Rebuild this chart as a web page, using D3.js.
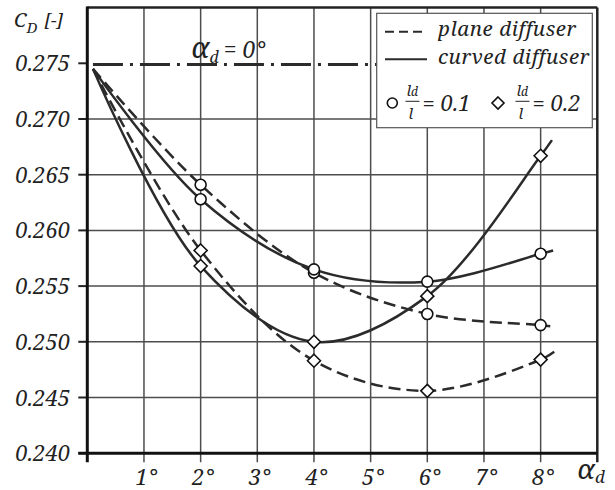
<!DOCTYPE html>
<html>
<head>
<meta charset="utf-8">
<script src="https://cdn.jsdelivr.net/npm/d3@7"></script>
<style>
html,body{margin:0;padding:0;background:#fff;}
svg{display:block;}
</style>
</head>
<body>
<svg id="chart" width="615" height="490"></svg>
<script>
// ---- data ----
const angles = [2, 4, 6, 8];
const planeCircle   = [0.2641, 0.2562, 0.2525, 0.2515];
const curvedCircle  = [0.2628, 0.2565, 0.2554, 0.2579];
const planeDiamond  = [0.2582, 0.2483, 0.2456, 0.2484];
const curvedDiamond = [0.2568, 0.2500, 0.2541, 0.2667];
// common start of the fitted curves and their end points just past 8°
const curveStart = [0.1, 0.2745];
const planeCircleEnd   = [8.17, 0.2514];
const curvedCircleEnd  = [8.22, 0.2582];
const planeDiamondEnd  = [8.24, 0.2491];
const curvedDiamondEnd = [8.2, 0.2681];
const referenceValue = 0.2749; // alpha_d = 0° line
const xTicks = [1, 2, 3, 4, 5, 6, 7, 8];
const yTicks = [0.240, 0.245, 0.250, 0.255, 0.260, 0.265, 0.270, 0.275];
const yGrid = [0.245, 0.250, 0.255, 0.260, 0.265, 0.270];
const yTickLabels = ["0.240", "0.245", "0.250", "0.255", "0.260", "0.265", "0.270", "0.275"];

const FONT = '"Noto Serif", "Liberation Serif", serif';
const svg = d3.select("#chart");
const x = d3.scaleLinear().domain([0, 9]).range([87.3, 597.3]);
const y = d3.scaleLinear().domain([0.240, 0.280]).range([453.2, 7.6]);
const lineCol = "#2b2b2b";
const gridCol = "#4d4d4d";
const txtCol = "#222";
const txt = (sel) => sel.style("font-family", FONT).style("font-style", "italic").attr("fill", txtCol);

// grid
svg.append("g").selectAll("line").data(xTicks).join("line")
  .attr("x1", d => x(d)).attr("x2", d => x(d))
  .attr("y1", y(0.280)).attr("y2", y(0.240) + 9)
  .attr("stroke", gridCol).attr("stroke-width", 1.5);
svg.append("g").selectAll("line").data(yGrid).join("line")
  .attr("x1", x(0)).attr("x2", x(9))
  .attr("y1", d => y(d)).attr("y2", d => y(d))
  .attr("stroke", gridCol).attr("stroke-width", 1.5);
// y ticks (outside)
svg.append("g").selectAll("line").data(yTicks).join("line")
  .attr("x1", x(0) - 9).attr("x2", x(0))
  .attr("y1", d => y(d)).attr("y2", d => y(d))
  .attr("stroke", "#222").attr("stroke-width", 2);

// frame
svg.append("line").attr("x1", x(0)).attr("x2", x(9)).attr("y1", y(0.280)).attr("y2", y(0.280))
  .attr("stroke", "#222").attr("stroke-width", 2.5);
svg.append("line").attr("x1", x(9)).attr("x2", x(9)).attr("y1", y(0.280)).attr("y2", y(0.240) + 9)
  .attr("stroke", "#222").attr("stroke-width", 2.5);
svg.append("line").attr("x1", x(0) - 9).attr("x2", x(9)).attr("y1", y(0.240)).attr("y2", y(0.240))
  .attr("stroke", "#111").attr("stroke-width", 3);
svg.append("line").attr("x1", x(0)).attr("x2", x(0)).attr("y1", y(0.280) - 1).attr("y2", y(0.240) + 9)
  .attr("stroke", "#111").attr("stroke-width", 3);

// y tick labels
svg.append("g").selectAll("text").data(yTicks).join("text")
  .attr("x", 70).attr("y", d => y(d) + 8)
  .attr("text-anchor", "end").attr("font-size", 22)
  .call(txt)
  .text((d, i) => yTickLabels[i]);
// x tick labels
svg.append("g").selectAll("text").data(xTicks).join("text")
  .attr("x", d => x(d) + 2).attr("y", 485)
  .attr("text-anchor", "middle").attr("font-size", 22)
  .call(txt)
  .text(d => d + "°");
// x axis title
const xt = svg.append("text").attr("x", 577).attr("y", 479).attr("font-size", 28).call(txt);
xt.append("tspan").text("α");
xt.append("tspan").attr("dy", 4).attr("font-size", 17).text("d");
// y axis title
const yt = svg.append("text").attr("x", 14).attr("y", 27).attr("font-size", 20).call(txt);
yt.append("tspan").text("C");
yt.append("tspan").attr("dy", 6).attr("font-size", 15).text("D");
yt.append("tspan").attr("dy", -6).attr("dx", 7).attr("font-size", 18).text("[-]");

// reference line alpha_d = 0
svg.append("line").attr("x1", x(0.1)).attr("x2", x(5.3))
  .attr("y1", y(referenceValue)).attr("y2", y(referenceValue))
  .attr("stroke", lineCol).attr("stroke-width", 3)
  .attr("stroke-dasharray", "30,7,3,7");
const at = svg.append("text").attr("x", 191).attr("y", 58).attr("font-size", 23).call(txt);
at.append("tspan").attr("font-size", 29).text("α");
at.append("tspan").attr("dy", 5).attr("font-size", 16).text("d");
at.append("tspan").attr("dy", -5).attr("dx", 5).text("= 0°");

// curves
const series = [
  {vals: planeCircle, end: planeCircleEnd, dash: true, marker: "circle"},
  {vals: curvedCircle, end: curvedCircleEnd, dash: false, marker: "circle"},
  {vals: planeDiamond, end: planeDiamondEnd, dash: true, marker: "diamond"},
  {vals: curvedDiamond, end: curvedDiamondEnd, dash: false, marker: "diamond"}
];
const line = d3.line().x(d => x(d[0])).y(d => y(d[1])).curve(d3.curveCatmullRom.alpha(0.5));
series.forEach(s => {
  const pts = [curveStart].concat(angles.map((a, i) => [a, s.vals[i]])).concat([s.end]);
  svg.append("path").attr("d", line(pts)).attr("fill", "none")
    .attr("stroke", lineCol).attr("stroke-width", 2.5)
    .attr("stroke-dasharray", s.dash ? "12,6" : null);
});
const diamond = (cx, cy, r) => `M${cx},${cy - r}L${cx + r},${cy}L${cx},${cy + r}L${cx - r},${cy}Z`;
series.forEach(s => {
  const g = svg.append("g");
  angles.forEach((a, i) => {
    if (s.marker === "circle") {
      g.append("circle").attr("cx", x(a)).attr("cy", y(s.vals[i])).attr("r", 5.5)
        .attr("fill", "#fff").attr("stroke", "#111").attr("stroke-width", 1.6);
    } else {
      g.append("path").attr("d", diamond(x(a), y(s.vals[i]), 6.5))
        .attr("fill", "#fff").attr("stroke", "#111").attr("stroke-width", 1.6);
    }
  });
});

// legend
const lg = svg.append("g");
lg.append("rect").attr("x", 376.7).attr("y", 13.3).attr("width", 215.6).attr("height", 114.4)
  .attr("fill", "#fff").attr("stroke", "#555").attr("stroke-width", 1.2);
lg.append("line").attr("x1", 385).attr("x2", 424).attr("y1", 31.7).attr("y2", 31.7)
  .attr("stroke", lineCol).attr("stroke-width", 2).attr("stroke-dasharray", "9,5");
lg.append("text").attr("x", 438).attr("y", 35.5).attr("font-size", 20.5)
  .style("letter-spacing", "0.6px").call(txt).text("plane diffuser");
lg.append("line").attr("x1", 385).attr("x2", 427).attr("y1", 59.3).attr("y2", 59.3)
  .attr("stroke", lineCol).attr("stroke-width", 2);
lg.append("text").attr("x", 438).attr("y", 63.8).attr("font-size", 20.5)
  .style("letter-spacing", "0.6px").call(txt).text("curved diffuser");
lg.append("circle").attr("cx", 392.3).attr("cy", 103).attr("r", 5)
  .attr("fill", "#fff").attr("stroke", "#111").attr("stroke-width", 1.6);
lg.append("path").attr("d", diamond(498, 103, 6))
  .attr("fill", "#fff").attr("stroke", "#111").attr("stroke-width", 1.6);
const frac = (fx, label) => {
  const n = lg.append("text").attr("x", fx).attr("y", 96).attr("font-size", 15).call(txt);
  n.append("tspan").text("l");
  n.append("tspan").attr("font-size", 12).text("d");
  lg.append("line").attr("x1", fx - 1).attr("x2", fx + 13).attr("y1", 101.3).attr("y2", 101.3)
    .attr("stroke", "#222").attr("stroke-width", 1);
  lg.append("text").attr("x", fx + 2).attr("y", 118.5).attr("font-size", 15).call(txt).text("l");
  lg.append("text").attr("x", fx + 16).attr("y", 111).attr("font-size", 22).call(txt).text("= " + label);
};
frac(406.5, "0.1");
frac(516.5, "0.2");
</script>
</body>
</html>
